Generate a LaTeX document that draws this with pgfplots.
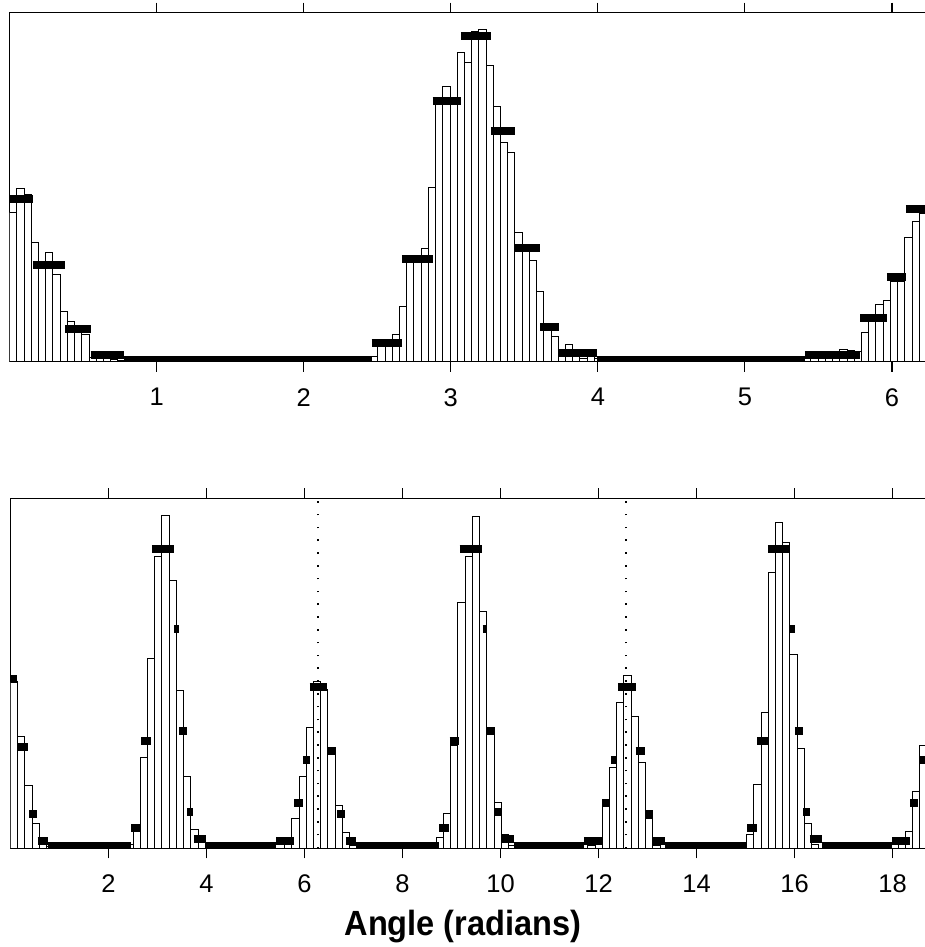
\documentclass[border=0pt]{standalone}
\usepackage{fontspec}
\setmainfont{Liberation Sans}
\newfontfamily\tickfont{Liberation Sans}
\newfontfamily\labfont[FakeStretch=0.93]{Liberation Sans}
\usepackage{pgfplots}
\pgfplotsset{compat=1.18}
\begin{document}
\begin{tikzpicture}
\pgfplotsset{
  every axis/.append style={
    scale only axis, width=924pt,
    axis line style={line width=1.3pt},
    ytick=\empty,
    tick align=outside, xtick pos=both,
    major tick length=10pt,
    every tick/.style={line width=1.1pt, black},
    /pgf/number format/assume math mode=true,
    xticklabel style={font=\tickfont\fontsize{25.5}{25.5}\selectfont, yshift=-13pt},
    ymin=0, unbounded coords=jump,
  },
  bars/.style={ybar, fill=white, draw=black, line width=0.9pt},
  marks/.style={black, line width=8pt},
  base/.style={black, line width=6pt},
  dotv/.style={black, line width=1.8pt, dash pattern=on 1.6pt off 11.2pt},
}
% ---------------- top panel ----------------
\begin{axis}[at={(9.6pt,585.3pt)}, anchor=south west, height=349pt,
  xmin=0, xmax=6.283185, ymax=349, xtick={1,2,3,4,5,6}]
\addplot[bars, bar width=0.0490874] coordinates {
(0.0245,149) (0.0736,173.4) (0.1227,167.4) (0.1718,119) (0.2209,97) (0.2700,109.4)
(0.3191,87.7) (0.3682,50) (0.4172,40) (0.4663,33) (0.5154,27.4) (0.5645,4)
(0.6136,3) (0.6627,3) (0.7118,2) (0.7609,1)
(2.4789,5.7) (2.5280,18) (2.5771,20) (2.6262,27.4) (2.6753,55.7) (2.7243,100)
(2.7734,102) (2.8225,113) (2.8716,174.7) (2.9207,257) (2.9698,275) (3.0189,257)
(3.0680,309.4) (3.1170,299.7) (3.1661,330) (3.2152,332.4) (3.2643,296) (3.3134,255)
(3.3625,219) (3.4116,209.4) (3.4607,129.4) (3.5097,112) (3.5588,101) (3.6079,70)
(3.6570,33) (3.7061,25.7) (3.7552,12) (3.8043,17.7) (3.8534,8) (3.9024,3)
(3.9515,5) (4.0006,3) (4.0497,2) (4.0988,1)
(5.4242,5) (5.4732,4) (5.5223,4) (5.5714,5) (5.6205,6) (5.6696,12.7)
(5.7187,11) (5.7678,10) (5.8169,29.4) (5.8659,40) (5.9150,57.4) (5.9641,61.7)
(6.0132,80) (6.0623,80) (6.1114,124) (6.1605,140.7) (6.2096,148) (6.2586,150)
};
\addplot[base] coordinates {(0.7776,3)(2.461,3) (2.461,nan) (3.995,3)(5.407,3)};
\addplot[marks] coordinates {
(0,162.7)(0.159,162.7) (0.159,nan)
(0.159,96.7)(0.3776,96.7) (0.3776,nan)
(0.3776,32.7)(0.5513,32.7) (0.5513,nan)
(0.5513,6.7)(0.7776,6.7) (0.7776,nan)
(2.461,19)(2.668,19) (2.668,nan)
(2.668,102.7)(2.876,102.7) (2.876,nan)
(2.876,261)(3.069,261) (3.069,nan)
(3.069,325.7)(3.273,325.7) (3.273,nan)
(3.273,231)(3.437,231) (3.437,nan)
(3.437,113.4)(3.607,113.4) (3.607,nan)
(3.607,35)(3.739,35) (3.739,nan)
(3.739,8.4)(3.995,8.4) (3.995,nan)
(5.407,6.7)(5.785,6.7) (5.785,nan)
(5.785,43.4)(5.965,43.4) (5.965,nan)
(5.965,84.4)(6.095,84.4) (6.095,nan)
(6.095,152.4)(6.3,152.4)
};
\end{axis}
% ---------------- bottom panel ----------------
\begin{axis}[at={(10.3pt,98.7pt)}, anchor=south west, height=350pt,
  xmin=0, xmax=18.849556, ymax=350, xtick={2,4,6,8,10,12,14,16,18}]
\addplot[bars, bar width=0.147262] coordinates {
(0.0736,166.7) (0.2209,112.3) (0.3682,63.3) (0.5154,25) (0.6627,7) (0.8099,2)
(2.4298,4) (2.5771,16.7) (2.7243,90.7) (2.8716,190) (3.0189,292.3) (3.1661,333.3)
(3.3134,267.7) (3.4607,157.7) (3.6079,71.7) (3.7552,19.3) (3.9024,6) (4.0497,2)
(5.6696,4) (5.8169,30) (5.9641,72.3) (6.1114,121) (6.2586,166.7) (6.4059,159.3)
(6.5532,97.7) (6.7004,43.3) (6.8477,15.7) (6.9950,3)
(8.7621,11) (8.9094,35) (9.0566,103) (9.2039,246) (9.3512,292) (9.4985,332.3)
(9.6457,237.3) (9.7930,115) (9.9403,45.7) (10.0875,14) (10.2348,3)
(11.8546,3) (12.0019,4) (12.1491,45.7) (12.2964,81) (12.4437,145.6) (12.5909,173.3)
(12.7382,132.3) (12.8855,86) (13.0327,30) (13.1800,3)
(15.0944,14.3) (15.2416,64) (15.3889,136) (15.5362,275.6) (15.6834,325.6) (15.8307,306.3)
(15.9780,194.3) (16.1252,100) (16.2725,25) (16.4198,4)
(18.1869,5) (18.3341,17.3) (18.4814,56.7) (18.6287,102.7) (18.7759,150)
};
\addplot[dotv] coordinates {(6.283185,0)(6.283185,350)};
\addplot[dotv] coordinates {(12.566371,0)(12.566371,350)};
\addplot[base] coordinates {(0.776,3)(2.464,3) (2.464,nan) (3.996,3)(5.425,3) (5.425,nan)
(7.058,3)(8.753,3) (8.753,nan) (10.284,3)(11.699,3) (11.699,nan)
(13.346,3)(15.034,3) (15.034,nan) (16.566,3)(17.995,3)};
\addplot[marks] coordinates {
(0,169.3)(0.14,169.3) (0.14,nan)
(0.14,101.3)(0.37,101.3) (0.37,nan)
(0.388,34.6)(0.539,34.6) (0.539,nan)
(0.559,7.1)(0.776,7.1) (0.776,nan)
(2.464,20.5)(2.648,20.5) (2.648,nan)
(2.668,107.1)(2.866,107.1) (2.866,nan)
(2.887,299.1)(3.342,299.1) (3.342,nan)
(3.348,219.1)(3.444,219.1) (3.444,nan)
(3.444,117.5)(3.601,117.5) (3.601,nan)
(3.614,36.5)(3.736,36.5) (3.736,nan)
(3.751,9.1)(3.996,9.1) (3.996,nan)
(5.425,7.1)(5.778,7.1) (5.778,nan)
(5.792,45.5)(5.962,45.5) (5.962,nan)
(5.970,88.3)(6.105,88.3) (6.105,nan)
(6.105,160.8)(6.460,160.8) (6.460,nan)
(6.472,97.5)(6.643,97.5) (6.643,nan)
(6.664,34.6)(6.819,34.6) (6.819,nan)
(6.848,7.1)(7.058,7.1) (7.058,nan)
(8.753,20.5)(8.942,20.5) (8.942,nan)
(8.963,107.1)(9.147,107.1) (9.147,nan)
(9.167,299.1)(9.624,299.1) (9.624,nan)
(9.637,219.1)(9.712,219.1) (9.712,nan)
(9.726,117.5)(9.882,117.5) (9.882,nan)
(9.896,36.5)(10.018,36.5) (10.018,nan)
(10.033,9.1)(10.284,9.1) (10.284,nan)
(11.699,7.1)(12.074,7.1) (12.074,nan)
(12.074,45.5)(12.243,45.5) (12.243,nan)
(12.258,88.3)(12.386,88.3) (12.386,nan)
(12.392,160.8)(12.754,160.8) (12.754,nan)
(12.754,97.5)(12.938,97.5) (12.938,nan)
(12.944,34.5)(13.115,34.5) (13.115,nan)
(13.115,7.1)(13.346,7.1) (13.346,nan)
(15.034,20.5)(15.239,20.5) (15.239,nan)
(15.239,107)(15.455,107) (15.455,nan)
(15.455,299)(15.904,299) (15.904,nan)
(15.904,219)(16.006,219) (16.006,nan)
(16.006,117.5)(16.178,117.5) (16.178,nan)
(16.178,36.5)(16.307,36.5) (16.307,nan)
(16.307,9)(16.566,9) (16.566,nan)
(17.995,7)(18.348,7) (18.348,nan)
(18.354,45.5)(18.525,45.5) (18.525,nan)
(18.538,88.3)(18.70,88.3) (18.70,nan)
(18.70,160.8)(18.85,160.8)
};
\end{axis}
\node[font=\labfont\bfseries\fontsize{35}{35}\selectfont, anchor=base] at (463pt,12pt) {Angle (radians)};
\pgfresetboundingbox
\path[use as bounding box] (0,0) rectangle (925pt,947pt);
\end{tikzpicture}
\end{document}
